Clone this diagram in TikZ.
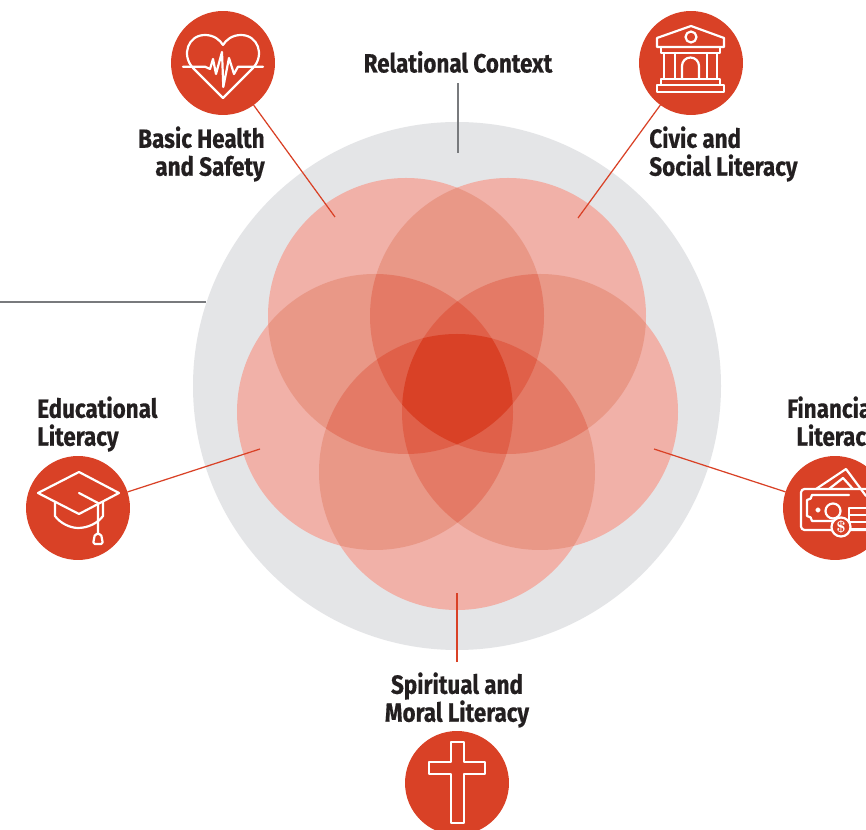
\documentclass[tikz,border=0pt]{standalone}
\usepackage{fontspec}
\usepackage{xcolor}
\newfontfamily\labelfont[FakeStretch=0.85,FakeBold=0.5]{Fira Sans Bold}
\definecolor{literacyred}{RGB}{217,65,38}
\definecolor{toneone}{RGB}{241,177,168}
\definecolor{tonetwo}{RGB}{233,152,135}
\definecolor{tonethree}{RGB}{228,122,102}
\definecolor{tonefour}{RGB}{224,96,73}
\definecolor{contextgrey}{RGB}{228,229,231}
\definecolor{ruleGrey}{RGB}{120,122,125}
\definecolor{labelink}{RGB}{35,31,32}
\tikzset{
    iconball/.style={circle,fill=literacyred,minimum size=2.08cm,inner sep=0pt,outer sep=0pt},
    iconline/.style={draw=white,line width=1.25pt,line join=round,line cap=round},
    redline/.style={draw=literacyred,line width=0.7pt},
    greyline/.style={draw=ruleGrey,line width=0.7pt},
    labeltext/.style={font=\labelfont\fontsize{15}{15.9}\selectfont,text=labelink,inner sep=0.2cm}
}
\begin{document}
\begin{tikzpicture}[x=0.02cm,y=-0.02cm]
    \clip (0,0) rectangle (866,830);
    \fill[white] (0,0) rectangle (866,830);
    \fill[contextgrey] (457,386) circle (264);
    % the five overlapping circles
    \coordinate (c1) at (406,316);
    \coordinate (c2) at (508,316);
    \coordinate (c3) at (375,412);
    \coordinate (c4) at (540,412);
    \coordinate (c5) at (457,472);
    \foreach \a in {1,...,5}
        \fill[toneone] (c\a) circle (138);
    \foreach \a/\b in {1/2,1/3,1/4,1/5,2/3,2/4,2/5,3/4,3/5,4/5}{
        \begin{scope}
            \clip (c\a) circle (138);
            \fill[tonetwo] (c\b) circle (138);
        \end{scope}
    }
    \foreach \a/\b/\c in {1/2/3,1/2/4,1/2/5,1/3/4,1/3/5,1/4/5,2/3/4,2/3/5,2/4/5,3/4/5}{
        \begin{scope}
            \clip (c\a) circle (138);
            \clip (c\b) circle (138);
            \fill[tonethree] (c\c) circle (138);
        \end{scope}
    }
    \foreach \a/\b/\c/\d in {1/2/3/4,1/2/3/5,1/2/4/5,1/3/4/5,2/3/4/5}{
        \begin{scope}
            \clip (c\a) circle (138);
            \clip (c\b) circle (138);
            \clip (c\c) circle (138);
            \fill[tonefour] (c\d) circle (138);
        \end{scope}
    }
    \begin{scope}
        \clip (c1) circle (138);
        \clip (c2) circle (138);
        \clip (c3) circle (138);
        \clip (c4) circle (138);
        \fill[literacyred] (c5) circle (138);
    \end{scope}
    % icons
    \node[iconball] (healthicon) at (223,63) {};
    \node[iconball] (civicicon) at (691,63) {};
    \node[iconball] (educationicon) at (78,508) {};
    \node[iconball] (financeicon) at (835,508) {};
    \node[iconball] (moralicon) at (457,783) {};
    % labels
    \node[labeltext,anchor=center] (contextlabel) at (458,62) {Relational Context};
    \node[labeltext,align=right,anchor=east] (healthlabel) at (275,154) {Basic Health\\and Safety};
    \node[labeltext,align=left,anchor=west] (civiclabel) at (639,154) {Civic and\\Social Literacy};
    \node[labeltext,align=left,anchor=west] (educationlabel) at (27,424) {Educational\\Literacy};
    \node[labeltext,align=right,anchor=east] (financelabel) at (888,424) {Financial\\Literacy};
    \node[labeltext,align=center,anchor=center] (morallabel) at (457,700) {Spiritual and\\Moral Literacy};
    % connectors
    \coordinate (contextend) at (458,153);
    \coordinate (leftstart) at (0,302);
    \coordinate (leftend) at (206,302);
    \coordinate (healthend) at (335,217);
    \coordinate (civicend) at (578,218);
    \coordinate (educationend) at (260,449);
    \coordinate (financeend) at (654,449);
    \coordinate (moralend) at (457,593);
    \draw[greyline] (contextlabel) -- (contextend);
    \draw[greyline] (leftstart) -- (leftend);
    \draw[redline] (healthicon) -- (healthend);
    \draw[redline] (civicicon) -- (civicend);
    \draw[redline] (educationicon) -- (educationend);
    \draw[redline] (financeicon) -- (financeend);
    \draw[redline] (morallabel) -- (moralend);
    % heart
    \begin{scope}[shift={(223,63)},iconline]
        \draw (0,35) -- (-30,5) .. controls (-42,-8) and (-35,-28) .. (-18,-28) .. controls (-9,-28) and (-3,-23) .. (0,-18) .. controls (3,-23) and (9,-28) .. (18,-28) .. controls (35,-28) and (42,-8) .. (30,5) -- cycle;
        \draw[fill=literacyred,draw=none] (-18,-12) rectangle (16,3);
        \draw (-40,3.7) -- (-18,3.7) -- (-13,6) -- (-10,-4) -- (-7,11) -- (-1,-11) -- (0.3,24) -- (6,-5) -- (11,11) -- (15,3.7) -- (40,3.7);
    \end{scope}
    % bank
    \begin{scope}[shift={(691,63)},iconline]
        \draw (0,-37) -- (33,-25) -- (33,-16) -- (-34,-16) -- (-34,-25) -- cycle;
        \draw (0,-26) circle (5.5);
        \draw (-30,-16) rectangle (29,-10);
        \draw (-27,-10) rectangle (-16,16);
        \draw (16,-10) rectangle (26,16);
        \draw (-9,16) -- (-9,3) arc (180:360:8.5) -- (8,16);
        \draw (-30,16) rectangle (29,22);
        \draw (-34,22) rectangle (33,29);
    \end{scope}
    % money
    \begin{scope}[shift={(835,508)},iconline]
        \draw (-19,-19) -- (11,-39) -- (31,-12);
        \draw (-6,-19) -- (8,-30) -- (18,-19);
        \draw[rounded corners=2] (-34,-19) rectangle (38,22);
        \draw (14,-13) -- (-23,-13) .. controls (-23,-10) and (-25,-8) .. (-28,-8) -- (-28,8) .. controls (-25,8) and (-23,10) .. (-23,13) -- (-2,13);
        \draw (-2,3) circle (7.5);
        \draw (-17,2) circle (1.5);
        \draw (14,0) rectangle (38,7);
        \draw (14,7) rectangle (38,14);
        \draw (14,14) rectangle (38,21);
        \draw[fill=literacyred] (6,19) circle (9.5);
        \node[text=white,font=\fontsize{9}{9}\selectfont\bfseries] (dollarsign) at (6,19) {\$};
    \end{scope}
    % cap
    \begin{scope}[shift={(78,508)},iconline]
        \draw (1,-36) -- (41,-15) -- (1,6) -- (-40,-15) -- cycle;
        \draw (-23,-6) -- (-23,8) .. controls (-18,15) and (-8,20) .. (0,20) .. controls (10,20) and (20,15) .. (25,8) -- (25,-6);
        \draw (1,-15) -- (20,-5) -- (20,26);
        \draw[rounded corners=1] (17,26) -- (23,26) -- (25,36) -- (15,36) -- cycle;
    \end{scope}
    % cross
    \begin{scope}[shift={(457,783)},iconline]
        \draw (-6,-41) -- (7,-41) -- (7,-21) -- (28,-21) -- (28,-9) -- (7,-9) -- (7,40) -- (-6,40) -- (-6,-9) -- (-28,-9) -- (-28,-21) -- (-6,-21) -- cycle;
    \end{scope}
\end{tikzpicture}
\end{document}
